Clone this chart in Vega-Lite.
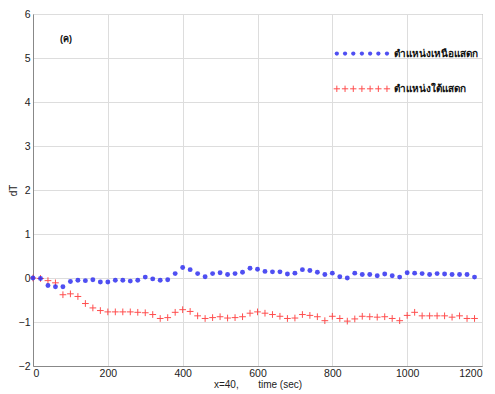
{
  "$schema": "https://vega.github.io/schema/vega-lite/v6.json",
  "width": 449,
  "height": 352,
  "autosize": {"type": "none"},
  "padding": {"left": 33, "top": 14, "right": 13, "bottom": 28},
  "background": "white",
  "config": {
    "view": {"stroke": "#888888", "strokeWidth": 1},
    "axis": {
      "gridColor": "#dddddd", "domainColor": "#888888", "tickColor": "#888888",
      "labelFont": "Liberation Sans", "labelFontSize": 10.5, "labelColor": "#222222",
      "titleFont": "Liberation Sans", "titleFontSize": 10, "titleFontWeight": "normal", "titleColor": "#222222"
    }
  },
  "datasets": {
    "series": [
      {"t": 0, "above": 0.0, "below": 0.0},
      {"t": 20, "above": -0.01, "below": -0.01},
      {"t": 40, "above": -0.17, "below": -0.06},
      {"t": 60, "above": -0.2, "below": -0.11},
      {"t": 80, "above": -0.2, "below": -0.38},
      {"t": 100, "above": -0.08, "below": -0.36},
      {"t": 120, "above": -0.05, "below": -0.42},
      {"t": 140, "above": -0.06, "below": -0.58},
      {"t": 160, "above": -0.04, "below": -0.68},
      {"t": 180, "above": -0.09, "below": -0.74},
      {"t": 200, "above": -0.09, "below": -0.77},
      {"t": 220, "above": -0.05, "below": -0.77},
      {"t": 240, "above": -0.05, "below": -0.77},
      {"t": 260, "above": -0.07, "below": -0.77},
      {"t": 280, "above": -0.05, "below": -0.78},
      {"t": 300, "above": 0.02, "below": -0.79},
      {"t": 320, "above": -0.02, "below": -0.83},
      {"t": 340, "above": -0.05, "below": -0.92},
      {"t": 360, "above": -0.04, "below": -0.9},
      {"t": 380, "above": 0.1, "below": -0.78},
      {"t": 400, "above": 0.24, "below": -0.72},
      {"t": 420, "above": 0.19, "below": -0.76},
      {"t": 440, "above": 0.1, "below": -0.86},
      {"t": 460, "above": 0.03, "below": -0.92},
      {"t": 480, "above": 0.1, "below": -0.9},
      {"t": 500, "above": 0.12, "below": -0.88},
      {"t": 520, "above": 0.08, "below": -0.91},
      {"t": 540, "above": 0.1, "below": -0.9},
      {"t": 560, "above": 0.13, "below": -0.88},
      {"t": 580, "above": 0.22, "below": -0.8},
      {"t": 600, "above": 0.2, "below": -0.77},
      {"t": 620, "above": 0.15, "below": -0.8},
      {"t": 640, "above": 0.14, "below": -0.83},
      {"t": 660, "above": 0.14, "below": -0.87},
      {"t": 680, "above": 0.09, "below": -0.92},
      {"t": 700, "above": 0.11, "below": -0.91},
      {"t": 720, "above": 0.19, "below": -0.83},
      {"t": 740, "above": 0.17, "below": -0.85},
      {"t": 760, "above": 0.13, "below": -0.88},
      {"t": 780, "above": 0.08, "below": -0.97},
      {"t": 800, "above": 0.11, "below": -0.87},
      {"t": 820, "above": 0.03, "below": -0.92},
      {"t": 840, "above": 0.0, "below": -0.98},
      {"t": 860, "above": 0.11, "below": -0.93},
      {"t": 880, "above": 0.08, "below": -0.87},
      {"t": 900, "above": 0.08, "below": -0.88},
      {"t": 920, "above": 0.05, "below": -0.89},
      {"t": 940, "above": 0.09, "below": -0.88},
      {"t": 960, "above": 0.05, "below": -0.92},
      {"t": 980, "above": 0.02, "below": -0.97},
      {"t": 1000, "above": 0.12, "below": -0.85},
      {"t": 1020, "above": 0.11, "below": -0.78},
      {"t": 1040, "above": 0.1, "below": -0.86},
      {"t": 1060, "above": 0.08, "below": -0.86},
      {"t": 1080, "above": 0.1, "below": -0.86},
      {"t": 1100, "above": 0.09, "below": -0.86},
      {"t": 1120, "above": 0.08, "below": -0.89},
      {"t": 1140, "above": 0.08, "below": -0.86},
      {"t": 1160, "above": 0.08, "below": -0.92},
      {"t": 1180, "above": 0.02, "below": -0.92}
    ],
    "legendBlue": [
      {"t": 812, "v": 5.1}, {"t": 834, "v": 5.1}, {"t": 856, "v": 5.1}, {"t": 879, "v": 5.1},
      {"t": 901, "v": 5.1}, {"t": 923, "v": 5.1}, {"t": 946, "v": 5.1}
    ],
    "legendRed": [
      {"t": 812, "v": 4.3}, {"t": 834, "v": 4.3}, {"t": 856, "v": 4.3}, {"t": 879, "v": 4.3},
      {"t": 901, "v": 4.3}, {"t": 923, "v": 4.3}, {"t": 946, "v": 4.3}
    ],
    "labels": [
      {"t": 966, "v": 5.1, "txt": "ตำแหน่งเหนือแสดก"},
      {"t": 966, "v": 4.3, "txt": "ตำแหน่งใต้แสดก"}
    ],
    "panel": [{"t": 88, "v": 5.43, "txt": "(ค)"}]
  },
  "layer": [
    {
      "data": {"name": "series"},
      "mark": {"type": "point", "shape": "M-1,0L1,0M0,-1L0,1", "filled": false, "size": 45, "color": "#ff3030", "strokeWidth": 1, "opacity": 0.85},
      "encoding": {
        "x": {"field": "t", "type": "quantitative", "scale": {"domain": [0, 1200], "nice": false},
              "axis": {"values": [0, 200, 400, 600, 800, 1000, 1200], "format": "d", "title": "x=40,\u00a0\u00a0\u00a0\u00a0\u00a0\u00a0\u00a0time (sec)", "grid": true, "tickSize": 0, "titlePadding": 1, "labelPadding": 2}},
        "y": {"field": "below", "type": "quantitative", "scale": {"domain": [-2, 6], "nice": false},
              "axis": {"values": [-2, -1, 0, 1, 2, 3, 4, 5, 6], "title": "dT", "grid": true, "tickSize": 0, "titlePadding": 0, "labelPadding": 3}}
      }
    },
    {
      "data": {"name": "series"},
      "mark": {"type": "point", "shape": "circle", "filled": true, "size": 24, "color": "#3030f0", "opacity": 0.85},
      "encoding": {
        "x": {"field": "t", "type": "quantitative"},
        "y": {"field": "above", "type": "quantitative"}
      }
    },
    {
      "data": {"name": "legendBlue"},
      "mark": {"type": "point", "shape": "circle", "filled": true, "size": 18, "color": "#3030f0", "opacity": 0.85},
      "encoding": {
        "x": {"field": "t", "type": "quantitative"},
        "y": {"field": "v", "type": "quantitative"}
      }
    },
    {
      "data": {"name": "legendRed"},
      "mark": {"type": "point", "shape": "M-1,0L1,0M0,-1L0,1", "filled": false, "size": 40, "color": "#ff3030", "strokeWidth": 1, "opacity": 0.85},
      "encoding": {
        "x": {"field": "t", "type": "quantitative"},
        "y": {"field": "v", "type": "quantitative"}
      }
    },
    {
      "data": {"name": "labels"},
      "mark": {"type": "text", "align": "left", "baseline": "middle", "fontSize": 10, "fontWeight": "bold", "font": "Noto Sans", "color": "#111111"},
      "encoding": {
        "x": {"field": "t", "type": "quantitative"},
        "y": {"field": "v", "type": "quantitative"},
        "text": {"field": "txt"}
      }
    },
    {
      "data": {"name": "panel"},
      "mark": {"type": "text", "align": "center", "baseline": "middle", "fontSize": 9, "fontWeight": "bold", "font": "Liberation Sans", "color": "#111111"},
      "encoding": {
        "x": {"field": "t", "type": "quantitative"},
        "y": {"field": "v", "type": "quantitative"},
        "text": {"field": "txt"}
      }
    }
  ]
}
